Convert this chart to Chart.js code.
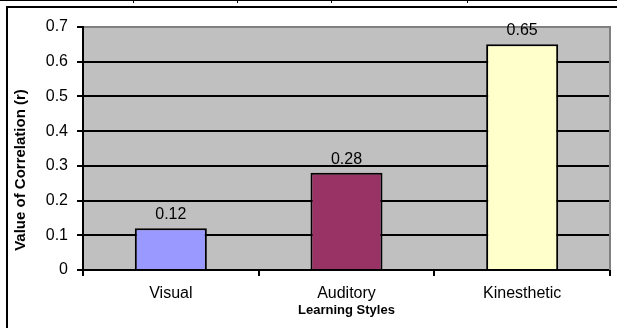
<!DOCTYPE html>
<html>
<head>
<meta charset="utf-8">
<script src="https://cdn.jsdelivr.net/npm/chart.js@4/dist/chart.umd.min.js"></script>
<style>
  html, body { margin: 0; padding: 0; background: #fff; }
  #page { position: relative; width: 617px; height: 328px; overflow: hidden; }
  .rule { position: absolute; background: #000; }
  #frame { position: absolute; left: 6px; top: 6px; width: 640px; height: 360px;
           border-left: 2px solid #000; border-top: 2px solid #000; }
  canvas { position: absolute; left: 0; top: 0; }
</style>
</head>
<body>
<div id="page">
  <!-- table row edge above the figure -->
  <div class="rule" style="left:0;top:0;width:617px;height:1px"></div>
  <div class="rule" style="left:133px;top:0;width:1px;height:3px"></div>
  <div class="rule" style="left:237px;top:0;width:1px;height:3px"></div>
  <div class="rule" style="left:331px;top:0;width:1px;height:3px"></div>
  <div class="rule" style="left:467px;top:0;width:1px;height:3px"></div>
  <div id="frame"></div>
  <canvas id="chart" width="617" height="328"></canvas>
</div>
<script>
const styles = ['Visual', 'Auditory', 'Kinesthetic'];
const correlation = [0.12, 0.28, 0.65];
const barColors = ['#9999FF', '#993366', '#FFFFCC'];
const yTicks = [0, 0.1, 0.2, 0.3, 0.4, 0.5, 0.6, 0.7];

const FONT = "'Liberation Sans', Arial, sans-serif";

// grey plot background plus the grey right-hand edge of the plot box
const plotBox = {
  id: 'plotBox',
  beforeDraw(chart) {
    const { ctx, chartArea: a } = chart;
    ctx.save();
    ctx.fillStyle = '#C0C0C0';
    ctx.fillRect(a.left, a.top, a.right - a.left, a.bottom - a.top);
    ctx.restore();
  },
  beforeDatasetsDraw(chart) {
    const { ctx, chartArea: a } = chart;
    ctx.save();
    ctx.strokeStyle = '#808080';
    ctx.lineWidth = 2;
    ctx.beginPath();
    ctx.moveTo(a.right, a.top - 1);
    ctx.lineTo(a.right, a.bottom);
    ctx.stroke();
    ctx.restore();
  }
};

// value printed above each bar, plus the vertical axis title
const annotations = {
  id: 'annotations',
  afterDatasetsDraw(chart) {
    const { ctx, chartArea: a } = chart;
    const meta = chart.getDatasetMeta(0);
    ctx.save();
    ctx.fillStyle = '#000';
    ctx.font = '16px ' + FONT;
    ctx.textAlign = 'center';
    ctx.textBaseline = 'alphabetic';
    meta.data.forEach((bar, i) => {
      ctx.fillText(String(correlation[i]), bar.x, bar.y - 9);
    });
    ctx.font = 'bold 15px ' + FONT;
    ctx.translate(21, a.bottom - 100);
    ctx.rotate(-Math.PI / 2);
    ctx.textBaseline = 'middle';
    ctx.fillText('Value of Correlation (r)', 0, 0);
    ctx.restore();
  }
};

new Chart(document.getElementById('chart'), {
  type: 'bar',
  data: {
    labels: styles,
    datasets: [{
      data: correlation,
      backgroundColor: barColors,
      borderColor: '#000',
      borderWidth: 2,
      borderSkipped: 'bottom',
      barPercentage: 0.41,
      categoryPercentage: 1.0
    }]
  },
  options: {
    responsive: false,
    animation: false,
    events: [],
    layout: { padding: { left: 0, top: 27, right: 7, bottom: 0 } },
    plugins: {
      legend: { display: false },
      tooltip: { enabled: false },
      title: { display: false }
    },
    scales: {
      x: {
        offset: true,
        grid: {
          offset: true,
          drawOnChartArea: false,
          drawTicks: true,
          tickLength: 6,
          color: '#000',
          lineWidth: 2
        },
        border: { display: true, color: '#000', width: 2 },
        ticks: {
          color: '#000',
          font: { family: FONT, size: 16 },
          padding: 8,
          maxRotation: 0
        },
        title: {
          display: true,
          text: 'Learning Styles',
          color: '#000',
          font: { family: FONT, size: 13, weight: 'bold' },
          padding: { top: 0, bottom: 10 }
        },
        afterFit(scale) { scale.height = 58; }
      },
      y: {
        min: 0,
        max: 0.7,
        afterBuildTicks(scale) { scale.ticks = yTicks.map(v => ({ value: v })); },
        grid: {
          color: c => (c.tick && c.tick.value >= 0.699 ? '#808080' : '#000'),
          tickColor: '#000',
          lineWidth: 2,
          tickLength: 6
        },
        border: { display: true, color: '#000', width: 2 },
        ticks: {
          color: '#000',
          font: { family: FONT, size: 16 },
          padding: 9,
          callback: v => (v === 0 ? '0' : v.toFixed(1))
        },
        afterFit(scale) { scale.width = 83; }
      }
    }
  },
  plugins: [plotBox, annotations]
});
</script>
</body>
</html>
